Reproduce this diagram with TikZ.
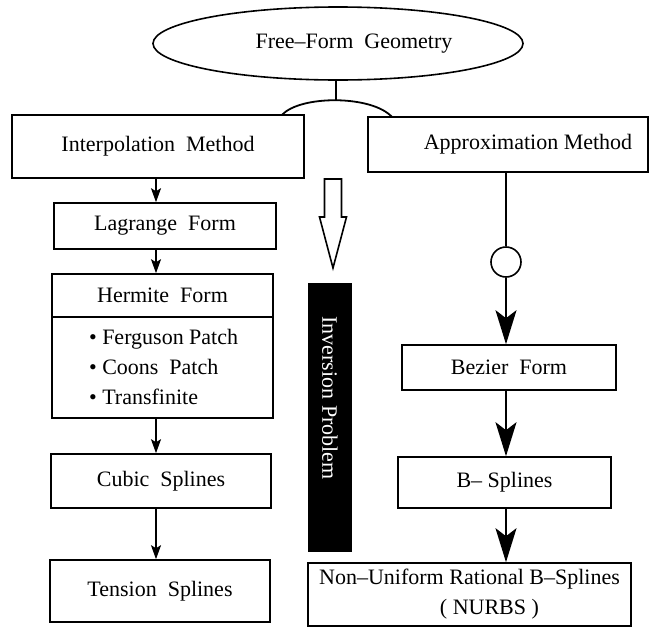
\documentclass[tikz,border=0pt]{standalone}
\usepackage{fontspec}
\setmainfont{Liberation Serif}
\usetikzlibrary{arrows.meta,shapes.geometric}

\begin{document}
\begin{tikzpicture}[x=0.5pt,y=-0.5pt,
    box/.style={draw,line width=0.8pt,inner sep=0pt},
    small/.style={-{Stealth[length=7pt,width=5pt,inset=1.5pt]},line width=0.8pt},
    big/.style={-{Stealth[length=17pt,width=10.5pt,inset=4pt]},line width=0.9pt}]
\tikzset{every node/.style={font=\fontsize{11}{15}\selectfont}}
\useasboundingbox (0,0) rectangle (649,627);

\node[box,ellipse,minimum width=185pt,minimum height=36.5pt] (geo) at (338,43.5) {\hspace*{16pt}Free--Form\ \ Geometry};
\coordinate (stem) at (336,100);
\coordinate (arcl) at (282,115);
\coordinate (arcr) at (392,117);

\node[box,minimum width=146pt,minimum height=31.5pt] (interp) at (158,146.5) {Interpolation\ \ Method};
\node[box,minimum width=140pt,minimum height=27.5pt] (approx) at (508,144.5) {\hspace*{20pt}Approximation Method};

% left column
\node[box,minimum width=111pt,minimum height=23pt] (lag) at (165,226) {Lagrange\ \ Form};
\node[box,minimum width=110.5pt,minimum height=21.5pt] (herm) at (162.5,295.5) {Hermite\ \ Form};
\node[box,minimum width=110.5pt,minimum height=50.5pt] (hlist) at (162.5,367.5) {};
\node[align=left,anchor=west] (items) at (82,367) {\textbullet\ Ferguson Patch\\ \textbullet\ Coons\ \ Patch\\ \textbullet\ Transfinite};
\node[box,minimum width=110pt,minimum height=27pt] (cubic) at (161,481) {Cubic\ \ Splines};
\node[box,minimum width=110pt,minimum height=31pt] (tens) at (160,591) {Tension\ \ Splines};

% right column
\node[draw,circle,line width=0.8pt,minimum size=15pt,inner sep=0pt] (knot) at (506,262) {};
\node[box,minimum width=107pt,minimum height=22.5pt] (bez) at (509,367.5) {Bezier\ \ Form};
\node[box,minimum width=106.5pt,minimum height=25.5pt] (bspl) at (504.5,482.5) {B-- Splines};
\node[box,minimum width=161.5pt,minimum height=31.5pt,align=center] (nurbs) at (469.5,594.5) {Non--Uniform Rational B--Splines\\\hspace*{20pt}( NURBS )};

% middle
\node[fill=black,minimum width=22pt,minimum height=134.5pt,inner sep=0pt] (bar) at (330,417.5) {};
\node[white,rotate=-90] (inv) at (330,398) {Inversion Problem};
\coordinate (hollow) at (333,179);
\draw[line width=0.8pt] (hollow) ++(-8.5,0) -- ++(0,38) -- ++(-5,0) -- ++(13.5,51)
    -- ++(13.5,-51) -- ++(-5,0) -- ++(0,-38) -- cycle;

\draw[line width=0.9pt] (stem |- geo.south) -- (stem);
\draw[line width=0.9pt] (arcl) .. controls (300,95) and (372,95) .. (arcr);

\coordinate (lc) at (156,0);
\draw[small] (lc |- interp.south) -- (lc |- lag.north);
\draw[small] (lc |- lag.south) -- (lc |- herm.north);
\draw[small] (lc |- hlist.south) -- (lc |- cubic.north);
\draw[small] (lc |- cubic.south) -- (lc |- tens.north);

\coordinate (rc) at (506,0);
\draw[line width=0.9pt] (rc |- approx.south) -- (knot.north);
\draw[big] (knot.south) -- (rc |- bez.north);
\draw[big] (rc |- bez.south) -- (rc |- bspl.north);
\draw[big] (rc |- bspl.south) -- (rc |- nurbs.north);
\end{tikzpicture}
\end{document}
